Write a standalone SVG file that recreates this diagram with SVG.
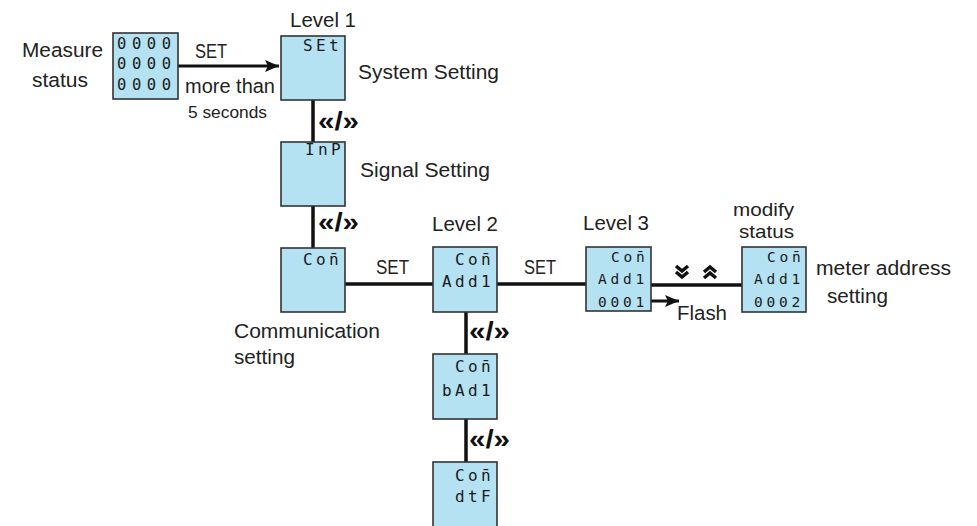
<svg xmlns="http://www.w3.org/2000/svg" width="977" height="526" viewBox="0 0 977 526">
<style>
.box{fill:#b5e2f2;stroke:#333;stroke-width:1.6}
.lbl{font-family:"Liberation Sans",Arial,sans-serif;font-size:20.5px;fill:#222}
.sm{font-size:16.5px}
.lcd{font-family:"DejaVu Sans Mono","Liberation Mono",monospace;font-size:16px;letter-spacing:3.4px;fill:#1a1a1a}
.lcd3{font-family:"DejaVu Sans Mono","Liberation Mono",monospace;font-size:14.5px;letter-spacing:3.8px;fill:#1a1a1a}
.lcdm{font-family:"DejaVu Sans Mono","Liberation Mono",monospace;font-size:15.5px;letter-spacing:5.6px;fill:#1a1a1a}
.nav{font-family:"Liberation Sans",Arial,sans-serif;font-size:25px;font-weight:bold;fill:#111}
.ln{stroke:#111;stroke-width:3.5;fill:none}
.ch{stroke:#111;stroke-width:3.5;fill:none}
</style>
<defs>
<marker id="ah" markerUnits="userSpaceOnUse" markerWidth="16" markerHeight="14" refX="14" refY="7" orient="auto">
<path d="M0,1 L14,7 L0,13 L3,7 z" fill="#111"/>
</marker>
</defs>

<g id="connectors">
<line class="ln" x1="178" y1="66" x2="279" y2="66" marker-end="url(#ah)" style="stroke-width:3"/>
<line class="ln" x1="313" y1="100" x2="313" y2="142"/>
<line class="ln" x1="313" y1="206" x2="313" y2="248"/>
<line class="ln" x1="345" y1="284" x2="433" y2="284"/>
<line class="ln" x1="497" y1="284" x2="586" y2="284"/>
<line class="ln" x1="651" y1="285" x2="742" y2="285"/>
<line class="ln" x1="466" y1="312" x2="466" y2="354"/>
<line class="ln" x1="466" y1="419" x2="466" y2="462"/>
<line class="ln" x1="651" y1="301" x2="679" y2="301" marker-end="url(#ah)" style="stroke-width:3"/>
<text class="lbl" x="195" y="58" textLength="32" lengthAdjust="spacingAndGlyphs">SET</text>
<text class="lbl" x="185" y="93" textLength="90" lengthAdjust="spacingAndGlyphs">more than</text>
<text class="lbl sm" x="188" y="118" textLength="79" lengthAdjust="spacingAndGlyphs">5 seconds</text>
<text class="nav" x="318" y="130" textLength="41" lengthAdjust="spacingAndGlyphs">«/»</text>
<text class="nav" x="318" y="231" textLength="41" lengthAdjust="spacingAndGlyphs">«/»</text>
<text class="nav" x="469" y="340" textLength="41" lengthAdjust="spacingAndGlyphs">«/»</text>
<text class="nav" x="469" y="448" textLength="41" lengthAdjust="spacingAndGlyphs">«/»</text>
<text class="lbl" x="376" y="274" textLength="33" lengthAdjust="spacingAndGlyphs">SET</text>
<text class="lbl" x="524" y="274" textLength="32" lengthAdjust="spacingAndGlyphs">SET</text>
<path class="ch" d="M676,266 L682,271 L688,266 M676,272 L682,277 L688,272"/>
<path class="ch" d="M704,272 L710,267 L716,272 M704,278 L710,273 L716,278"/>
<text class="lbl" x="677" y="320" textLength="50" lengthAdjust="spacingAndGlyphs">Flash</text>
</g>

<g id="measure">
<text class="lbl" x="22" y="57" textLength="81" lengthAdjust="spacingAndGlyphs">Measure</text>
<text class="lbl" x="32" y="87" textLength="56" lengthAdjust="spacingAndGlyphs">status</text>
<rect class="box" x="113" y="33" width="65" height="66"/>
<text class="lcdm" x="117" y="49">0000</text>
<text class="lcdm" x="117" y="69">0000</text>
<text class="lcdm" x="117" y="90">0000</text>
</g>

<g id="system">
<text class="lbl" x="290" y="27" textLength="66" lengthAdjust="spacingAndGlyphs">Level 1</text>
<rect class="box" x="281" y="36" width="64" height="64"/>
<text class="lcd" x="303" y="51">SEt</text>
<text class="lbl" x="358" y="79" textLength="141" lengthAdjust="spacingAndGlyphs">System Setting</text>
</g>

<g id="signal">
<rect class="box" x="281" y="142" width="64" height="64"/>
<text class="lcd" x="305" y="155">InP</text>
<text class="lbl" x="360" y="177" textLength="130" lengthAdjust="spacingAndGlyphs">Signal Setting</text>
</g>

<g id="communication">
<rect class="box" x="281" y="248" width="64" height="64"/>
<text class="lcd" x="303" y="265">Con̄</text>
<text class="lbl" x="234" y="338" textLength="146" lengthAdjust="spacingAndGlyphs">Communication</text>
<text class="lbl" x="234" y="364" textLength="61" lengthAdjust="spacingAndGlyphs">setting</text>
</g>

<g id="level2">
<text class="lbl" x="432" y="231" textLength="66" lengthAdjust="spacingAndGlyphs">Level 2</text>
<rect class="box" x="433" y="247" width="64" height="65"/>
<text class="lcd" x="455" y="265">Con̄</text>
<text class="lcd" x="442" y="287">Add1</text>
</g>

<g id="baud">
<rect class="box" x="433" y="354" width="64" height="65"/>
<text class="lcd" x="455" y="372">Con̄</text>
<text class="lcd" x="442" y="396">bAd1</text>
</g>

<g id="dtf">
<rect class="box" x="433" y="462" width="64" height="80"/>
<text class="lcd" x="455" y="481">Con̄</text>
<text class="lcd" x="455" y="502">dtF</text>
</g>

<g id="level3">
<text class="lbl" x="583" y="230" textLength="66" lengthAdjust="spacingAndGlyphs">Level 3</text>
<rect class="box" x="586" y="247" width="65" height="64"/>
<text class="lcd3" x="611" y="262">Con̄</text>
<text class="lcd3" x="598" y="284">Add1</text>
<text class="lcd3" x="598" y="307">0001</text>
</g>

<g id="modify">
<text class="lbl" x="733" y="216" style="font-size:18.5px" textLength="61" lengthAdjust="spacingAndGlyphs">modify</text>
<text class="lbl" x="739" y="238" style="font-size:18.5px" textLength="55" lengthAdjust="spacingAndGlyphs">status</text>
<rect class="box" x="742" y="247" width="64" height="65"/>
<text class="lcd3" x="767" y="262">Con̄</text>
<text class="lcd3" x="754" y="284">Add1</text>
<text class="lcd3" x="754" y="307">0002</text>
<text class="lbl" x="816" y="275" textLength="135" lengthAdjust="spacingAndGlyphs">meter address</text>
<text class="lbl" x="827" y="303" textLength="61" lengthAdjust="spacingAndGlyphs">setting</text>
</g>
</svg>
